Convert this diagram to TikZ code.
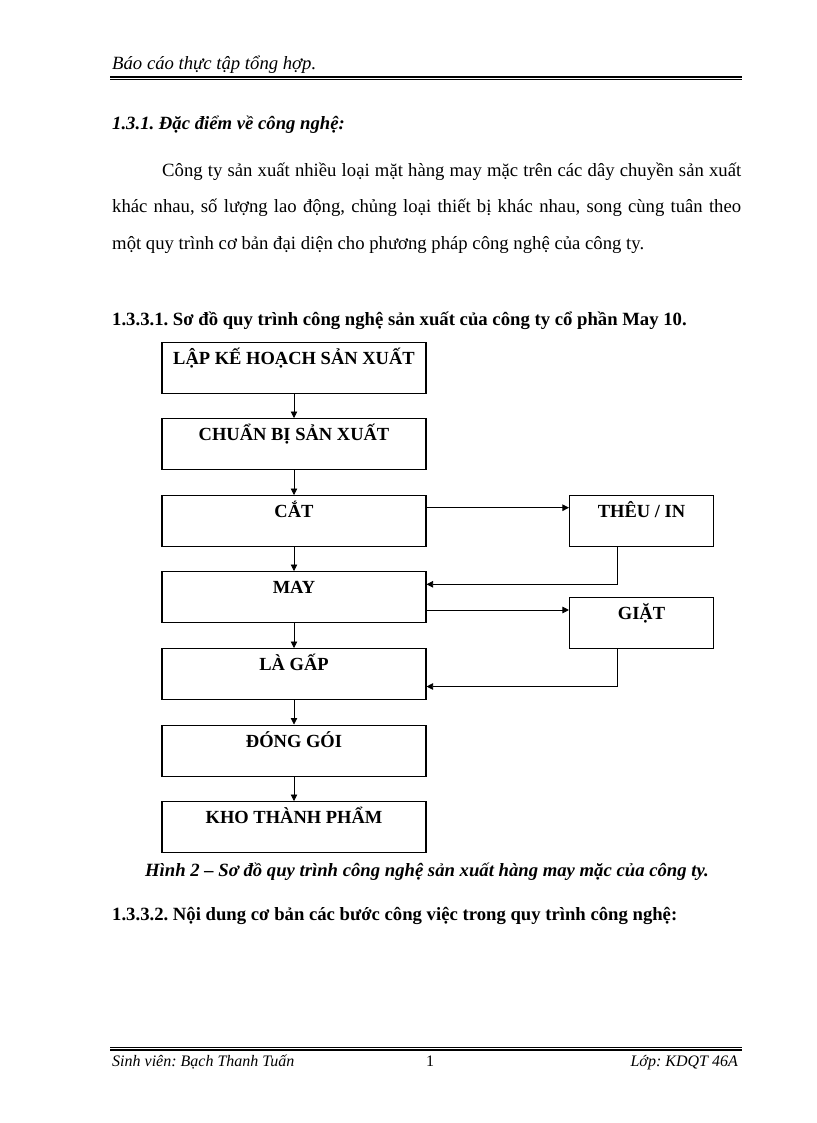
\documentclass[tikz,border=0pt]{standalone}
\usepackage{fontspec}
\setmainfont{Liberation Serif}
\usetikzlibrary{arrows.meta,calc}
\frenchspacing
\begin{document}
\begin{tikzpicture}[x=1pt,y=-1pt,
  stepbox/.style={draw,line width=1.1pt,inner sep=0pt,text height=22.2pt,text depth=28.8pt,
     font=\fontsize{18.5}{20}\selectfont\bfseries},
  leftbox/.style={stepbox,minimum width=264pt,anchor=north},
  rightbox/.style={stepbox,minimum width=144pt,anchor=north},
  arr/.style={line width=0.8pt,-{Triangle[length=6.5pt,width=6.5pt]}},
  body/.style={font=\fontsize{18.7}{20}\selectfont,inner sep=0pt,anchor=base west},
  hf/.style={font=\fontsize{18.7}{20}\selectfont\itshape,inner sep=0pt}]
\useasboundingbox (0,0) rectangle (816,1123);
\fill[white] (0,0) rectangle (816,1123);
% header
\node[hf,anchor=base west] (hdr) at (112,70) {Báo cáo thực tập tổng hợp.};
\coordinate (hl1) at (110,77);
\coordinate (hr1) at (742,77);
\draw[line width=2pt] (hl1) -- (hr1);
\draw[line width=0.7pt] ([yshift=-2.6pt]hl1) -- ([yshift=-2.6pt]hr1);
% section heading
\node[body,font=\fontsize{18.7}{20}\selectfont\bfseries\itshape] (s131) at (112,130) {1.3.1. Đặc điểm về công nghệ:};
% paragraph
\node[body] (p1) at (162,176.5) {\makebox[579pt][s]{Công ty sản xuất nhiều loại mặt hàng may mặc trên các dây chuyền sản xuất}};
\node[body] (p2) at (112,213) {\makebox[629pt][s]{khác nhau, số lượng lao động, chủng loại thiết bị khác nhau, song cùng tuân theo}};
\node[body] (p3) at (112,249.5) {một quy trình cơ bản đại diện cho phương pháp công nghệ của công ty.};
% diagram heading
\node[body,font=\fontsize{18.7}{20}\selectfont\bfseries] (s1331) at (112,325) {1.3.3.1. Sơ đồ quy trình công nghệ sản xuất của công ty cổ phần May 10.};
% boxes
\node[leftbox] (lap) at (294,341.5) {LẬP KẾ HOẠCH SẢN XUẤT};
\node[leftbox] (cb) at (294,418) {CHUẨN BỊ SẢN XUẤT};
\node[leftbox] (cat) at (294,495) {CẮT};
\node[leftbox] (may) at (294,571) {MAY};
\node[leftbox] (la) at (294,648) {LÀ GẤP};
\node[leftbox] (dg) at (294,724.5) {ĐÓNG GÓI};
\node[leftbox] (kho) at (294,801) {KHO THÀNH PHẨM};
\node[rightbox] (theu) at (641.5,495) {THÊU / IN};
\node[rightbox] (giat) at (641.5,597) {GIẶT};
% arrows
\draw[arr] (lap) -- (cb);
\draw[arr] (cb) -- (cat);
\draw[arr] (cat) -- (may);
\draw[arr] (may) -- (la);
\draw[arr] (la) -- (dg);
\draw[arr] (dg) -- (kho);
\draw[arr] ([yshift=-12.7pt]cat.north east) -- ([yshift=-12.7pt]theu.north west);
\draw[arr] ([xshift=-24pt]theu.south) |- ([yshift=-13.3pt]may.north east);
\draw[arr] ([yshift=-39pt]may.north east) -- ([yshift=-13pt]giat.north west);
\draw[arr] ([xshift=-24pt]giat.south) |- ([yshift=-38.5pt]la.north east);
% caption
\node[body,anchor=base,font=\fontsize{18.7}{20}\selectfont\bfseries\itshape] (cap) at (427,876.5) {Hình 2 – Sơ đồ quy trình công nghệ sản xuất hàng may mặc của công ty.};
\node[body,font=\fontsize{18.7}{20}\selectfont\bfseries] (s1332) at (112,920) {1.3.3.2. Nội dung cơ bản các bước công việc trong quy trình  công nghệ:};
% footer
\coordinate (fl) at (110,1050);
\coordinate (fr) at (742,1050);
\draw[line width=0.7pt] ([yshift=2.2pt]fl) -- ([yshift=2.2pt]fr);
\draw[line width=2pt] (fl) -- (fr);
\node[hf,anchor=base west,font=\fontsize{16}{18}\selectfont\itshape] (sv) at (112,1066) {Sinh viên: Bạch Thanh Tuấn};
\node[hf,anchor=base,font=\fontsize{16}{18}\selectfont] (pg) at (430,1066) {1};
\node[hf,anchor=base east,font=\fontsize{16}{18}\selectfont\itshape] (lop) at (738,1066) {Lớp: KDQT 46A};
\end{tikzpicture}
\end{document}
